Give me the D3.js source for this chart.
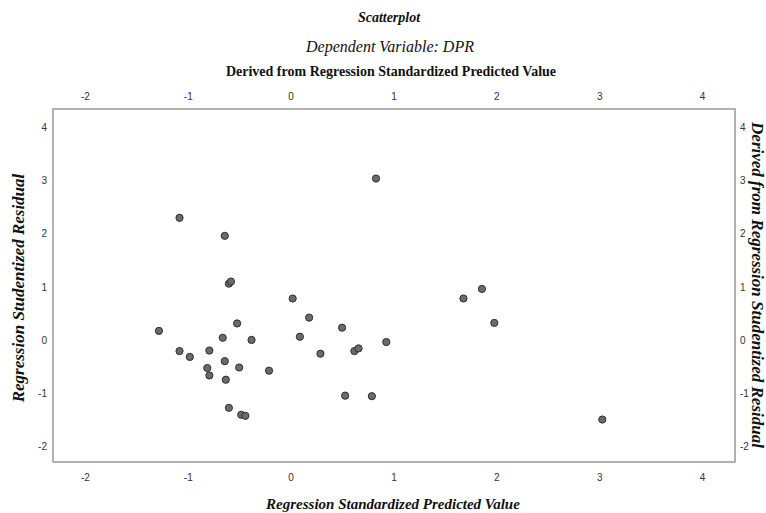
<!DOCTYPE html>
<meta charset="utf-8">
<style>
  body { margin: 0; background: #fff; }
  .tick-label { font-family: "Liberation Sans", Arial, sans-serif; font-size: 10px; fill: #333; }
  .serif { font-family: "Liberation Serif", "Times New Roman", serif; fill: #111; }
</style>
<body>
<script src="https://d3js.org/d3.v7.min.js"></script>
<script>

// standardized predicted value (x) vs studentized residual (y)
var predicted = [0.83, -1.08, -0.64, -0.60, -0.58, -1.28, -0.52, -0.66, -1.08, -0.98,
                 -0.79, -0.64, -0.81, -0.79, -0.63, -0.50, -0.60, -0.48, -0.44, 0.02,
                 0.18, -0.38, 0.09, 0.50, 0.29, 0.62, 0.66, 0.93, -0.21, 0.53,
                 0.79, 1.86, 1.68, 1.98, 3.03];
var residual = [3.04, 2.30, 1.96, 1.06, 1.10, 0.17, 0.31, 0.04, -0.21, -0.32,
                -0.20, -0.40, -0.53, -0.67, -0.75, -0.52, -1.28, -1.41, -1.43, 0.78,
                0.42, 0.00, 0.06, 0.23, -0.26, -0.21, -0.16, -0.04, -0.58, -1.05,
                -1.06, 0.96, 0.78, 0.32, -1.50];
var xTicks = [-2, -1, 0, 1, 2, 3, 4];
var yTicks = [-2, -1, 0, 1, 2, 3, 4];

var width = 766, height = 513;
var frame = {left: 53, right: 735, top: 109, bottom: 462};

var svg = d3.select("body").append("svg")
    .attr("width", width)
    .attr("height", height);

var x = d3.scaleLinear().domain([-2.31, 4.32]).range([frame.left, frame.right]);
var y = d3.scaleLinear().domain([-2.30, 4.35]).range([frame.bottom, frame.top]);

// plain hyphen minus like the original output
var fmt = function(d) { return String(d); };

// titles
svg.append("text").attr("class", "serif")
    .attr("x", 389).attr("y", 22)
    .attr("text-anchor", "middle")
    .style("font-size", "14px").style("font-style", "italic").style("font-weight", "bold")
    .text("Scatterplot");
svg.append("text").attr("class", "serif")
    .attr("x", 390).attr("y", 52)
    .attr("text-anchor", "middle")
    .style("font-size", "16px").style("font-style", "italic")
    .text("Dependent Variable: DPR");
svg.append("text").attr("class", "serif")
    .attr("x", 391).attr("y", 76)
    .attr("text-anchor", "middle")
    .style("font-size", "14px").style("font-weight", "bold")
    .text("Derived from Regression Standardized Predicted Value");

// frame
svg.append("rect")
    .attr("x", frame.left).attr("y", frame.top)
    .attr("width", frame.right - frame.left)
    .attr("height", frame.bottom - frame.top)
    .attr("fill", "none")
    .attr("stroke", "#999")
    .attr("stroke-width", 1.5);

// axes (labels only, no tick marks)
function styleAxis(g) {
  g.select(".domain").remove();
  g.selectAll(".tick line").remove();
  g.selectAll(".tick text").attr("class", "tick-label").attr("fill", null);
}
svg.append("g")
    .attr("transform", "translate(0," + (frame.top - 9) + ")")
    .call(d3.axisTop(x).tickValues(xTicks).tickFormat(fmt).tickSize(0).tickPadding(0))
    .call(styleAxis);
svg.append("g")
    .attr("transform", "translate(0," + (frame.bottom + 8) + ")")
    .call(d3.axisBottom(x).tickValues(xTicks).tickFormat(fmt).tickSize(0).tickPadding(4))
    .call(styleAxis);
svg.append("g")
    .attr("transform", "translate(" + (frame.left - 6) + ",0)")
    .call(d3.axisLeft(y).tickValues(yTicks).tickFormat(fmt).tickSize(0).tickPadding(0))
    .call(styleAxis);
svg.append("g")
    .attr("transform", "translate(" + (frame.right + 5) + ",0)")
    .call(d3.axisRight(y).tickValues(yTicks).tickFormat(fmt).tickSize(0).tickPadding(0))
    .call(styleAxis);
svg.selectAll("g").attr("font-size", null).attr("font-family", null);

// axis titles
svg.append("text").attr("class", "serif")
    .attr("x", 393).attr("y", 509)
    .attr("text-anchor", "middle")
    .style("font-size", "15px").style("font-style", "italic").style("font-weight", "bold")
    .text("Regression Standardized Predicted Value");
svg.append("text").attr("class", "serif")
    .attr("transform", "translate(24,288) rotate(-90)")
    .attr("text-anchor", "middle")
    .style("font-size", "17px").style("font-style", "italic").style("font-weight", "bold")
    .text("Regression Studentized Residual");
svg.append("text").attr("class", "serif")
    .attr("transform", "translate(752,285) rotate(90)")
    .attr("text-anchor", "middle")
    .style("font-size", "17px").style("font-style", "italic").style("font-weight", "bold")
    .text("Derived from Regression Studentized Residual");

// points
svg.append("g")
  .selectAll("circle")
    .data(predicted)
  .enter().append("circle")
    .attr("cx", function(d) { return x(d); })
    .attr("cy", function(d, i) { return y(residual[i]); })
    .attr("r", 3.6)
    .attr("fill", "#6b6b6b")
    .attr("stroke", "#2e2e2e")
    .attr("stroke-width", 1);

</script>
</body>
</html>
